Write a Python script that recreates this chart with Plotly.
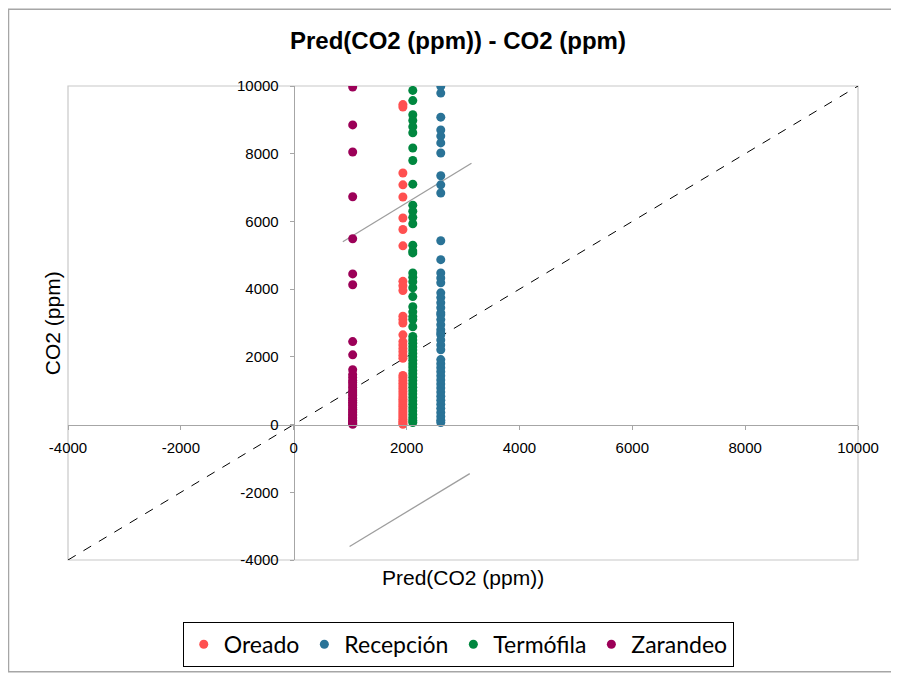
import plotly.graph_objects as go

# predicted value (x) per group and observed CO2 values (y)
groups = ["Oreado", "Recepción", "Termófila", "Zarandeo"]
colors = ["#FF5050", "#2A7397", "#00873F", "#9C0058"]
pred = [1935, 2606, 2110, 1045]

oreado = [9450, 9380, 7430, 7080, 6720, 6100, 5760, 5280, 4230, 4100, 3960,
          3200, 3100, 3000, 2650, 2450, 2350, 2250, 2150, 2050, 1960, 1450,
          1380, 1300, 1220, 1140, 1060, 980, 900, 820, 750, 680, 610, 540,
          470, 400, 340, 280, 220, 160, 100, 50, 10]
recepcion = [9990, 9790, 9080, 8700, 8520, 8320, 8020, 7350, 7080, 6840,
             5430, 4870, 4480, 4330, 4190, 3890, 3750, 3600, 3450, 3300, 3240,
             3100, 2950, 2800, 2710, 2650, 2500, 2350, 2210, 1920, 1800, 1680,
             1560, 1440, 1320, 1200, 1080, 960, 840, 720, 600, 480, 360, 240,
             130, 60]
termofila = [9870, 9570, 9150, 8980, 8800, 8620, 8170, 7800, 7100, 6480, 6300,
             6120, 5930, 5300, 5130, 5070, 4480, 4350, 4220, 4040, 3780, 3480,
             3330, 3190, 3100, 2890, 2600, 2500, 2400, 2300, 2200, 2100, 2000,
             1900, 1800, 1700, 1600, 1500, 1400, 1300, 1200, 1100, 1000, 900,
             800, 700, 600, 500, 400, 300, 200, 120, 60]
zarandeo = [9970, 8850, 8050, 6730, 5490, 4450, 4130, 2450, 2060, 1620, 1480,
            1390, 1300, 1240, 1170, 1100, 1020, 960, 900, 850, 780, 720, 660,
            610, 560, 500, 450, 400, 350, 300, 260, 210, 170, 130, 90, 60, 30, 10]
observed = [oreado, recepcion, termofila, zarandeo]

# reference lines
diag_x = [-4000, 10000]
diag_y = [-4000, 10000]
upper_x = [870, 3150]
upper_y = [5400, 7720]
lower_x = [990, 3120]
lower_y = [-3600, -1450]

ticks = [-4000, -2000, 0, 2000, 4000, 6000, 8000, 10000]
tick_labels = ["-4000", "-2000", "0", "2000", "4000", "6000", "8000", "10000"]

font_main = "Liberation Sans, Arial, sans-serif"

fig = go.Figure()

fig.add_trace(go.Scatter(x=upper_x, y=upper_y, mode="lines", showlegend=False,
                         line=dict(color="#9e9e9e", width=1.3), hoverinfo="skip"))
fig.add_trace(go.Scatter(x=lower_x, y=lower_y, mode="lines", showlegend=False,
                         line=dict(color="#9e9e9e", width=1.3), hoverinfo="skip"))
fig.add_trace(go.Scatter(x=diag_x, y=diag_y, mode="lines", showlegend=False,
                         line=dict(color="black", width=1, dash="dash"), hoverinfo="skip"))

for name, col, px_, obs in zip(groups, colors, pred, observed):
    fig.add_trace(go.Scatter(
        x=[px_] * len(obs), y=obs, mode="markers", name=name,
        marker=dict(color=col, size=9, line=dict(width=0)),
    ))

zero_frac = 4000 / 14000

axis_style = dict(range=[-4000, 10000], tickvals=ticks, ticktext=tick_labels,
                  showgrid=False, zeroline=False, showline=True,
                  linecolor="#a6a6a6", linewidth=1, anchor="free",
                  position=zero_frac, ticks="outside", ticklen=4,
                  tickcolor="#a6a6a6",
                  tickfont=dict(family=font_main, size=15, color="black"))
fig.update_xaxes(**axis_style, ticklabelstandoff=5)
fig.update_yaxes(**axis_style, ticklabelstandoff=8)

fig.update_layout(
    width=891, height=670,
    margin=dict(l=60, r=41, t=78, b=117),
    plot_bgcolor="white", paper_bgcolor="white",
    title=dict(text="<b>Pred(CO2 (ppm)) - CO2 (ppm)</b>", x=0.505, y=0.952,
               xanchor="center", yanchor="middle",
               font=dict(family=font_main, size=24, color="black")),
    legend=dict(orientation="h", x=0.494, y=-0.128, xanchor="center", yanchor="top",
                bordercolor="black", borderwidth=1,
                font=dict(family="Lato, Carlito, sans-serif", size=23, color="black")),
    shapes=[
        dict(type="rect", xref="paper", yref="paper", x0=0, x1=1, y0=0, y1=1,
             line=dict(color="#c8c8c8", width=1.2), layer="below"),
        dict(type="rect", xref="paper", yref="paper", x0=-0.0753, x1=1.0443,
             y0=-0.2358, y1=1.1621, line=dict(color="#a6a6a6", width=1.5), layer="below"),
    ],
    annotations=[
        dict(text="Pred(CO2 (ppm))", xref="paper", yref="paper", x=0.5, y=-0.036,
             xanchor="center", yanchor="middle", showarrow=False,
             font=dict(family=font_main, size=21, color="black")),
        dict(text="CO2 (ppm)", xref="paper", yref="paper", x=-0.02, y=0.5,
             xanchor="center", yanchor="middle", showarrow=False, textangle=-90,
             font=dict(family=font_main, size=21, color="black")),
    ],
)

fig.write_html("out.html")
